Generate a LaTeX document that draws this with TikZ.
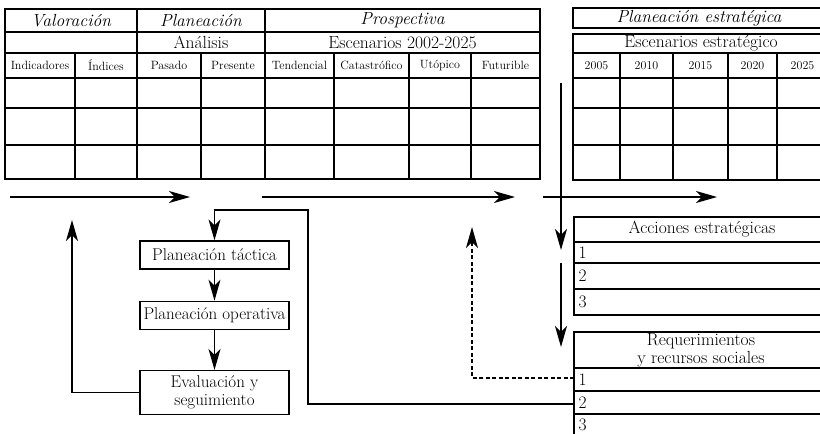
\documentclass[tikz,border=0pt]{standalone}
\usepackage{tikz}
\usetikzlibrary{arrows.meta}
\usetikzlibrary{positioning}

\begin{document}
\begin{tikzpicture}[x=1pt,y=-1pt,line width=1.3pt,>={Stealth[length=21pt,width=12pt,inset=6pt]},
                    every node/.append style={font=\fontsize{17.5}{18}\selectfont,inner sep=1pt},
                    head/.style={font=\fontsize{17.5}{18}\selectfont\itshape},
                    colhead/.style={font=\fontsize{12}{13}\selectfont},
                    flowbox/.style={draw,font=\fontsize{17}{18}\selectfont,minimum width=149pt,minimum height=28pt,align=center},
                    rownum/.style={anchor=west,inner sep=0pt}]

\useasboundingbox (0,0) rectangle (820,434);
\clip (0,0) rectangle (820,434);

% tabla izquierda
\draw (5,9) rectangle (540,179);
\foreach \y in {32,53,78,108,145} \draw (5,\y) -- (540,\y);
\foreach \x in {137,265} \draw (\x,9) -- (\x,179);
\foreach \x in {75,201,334,409,471} \draw (\x,53) -- (\x,179);

\node[head] (valoracion) at (71,20.5) {Valoración};
\node[head] (planeacion) at (201,20.5) {Planeación};
\node[head] (prospectiva) at (402.5,20.5) {Prospectiva};
\node (analisis) at (201,42.5) {Análisis};
\node (escenarios) at (402.5,42.5) {Escenarios 2002-2025};
\node[colhead] (indicadores) at (40,65.5) {Indicadores};
\node[colhead] (indices) at (106,65.5) {Índices};
\node[colhead] (pasado) at (169,65.5) {Pasado};
\node[colhead] (presente) at (233,65.5) {Presente};
\node[colhead] (tendencial) at (299.5,65.5) {Tendencial};
\node[colhead] (catastrofico) at (371.5,65.5) {Catastrófico};
\node[colhead] (utopico) at (440,65.5) {Utópico};
\node[colhead] (futurible) at (505.5,65.5) {Futurible};

% tabla derecha
\draw (573,8) rectangle (828,28);
\draw (573,34) rectangle (828,180);
\foreach \y in {53,78,108,145} \draw (573,\y) -- (828,\y);
\foreach \x in {620,673,728,777} \draw (\x,53) -- (\x,180);

\node[head] (estrategica) at (699,18) {Planeación estratégica};
\node (escestrat) at (701,43.5) {Escenarios estratégico};
\foreach \yr/\x in {2005/596.5,2010/646.5,2015/700.5,2020/752.5,2025/802.5}
  \node[colhead] (y\yr) at (\x,65.5) {\yr};

% acciones
\draw (574,217) rectangle (828,315);
\foreach \y in {242,263,289} \draw (574,\y) -- (828,\y);
\node (acciones) at (702,229.5) {Acciones estratégicas};
\node[rownum] (acc1) at (578,252.5) {1};
\node[rownum] (acc2) at (578,276) {2};
\node[rownum] (acc3) at (578,302) {3};

% requerimientos
\draw (574,440) -- (574,332) -- (828,332);
\foreach \y in {368,391,414} \draw (574,\y) -- (828,\y);
\node[align=center] (requerimientos) at (701,350) {Requerimientos\\y recursos sociales};
\node[rownum] (req1) at (578,379.5) {1};
\node[rownum] (req2) at (578,402.5) {2};
\node[rownum] (req3) at (578,424.5) {3};
\coordinate (req1in) at (574,378);
\coordinate (req2in) at (574,404);

% flujo
\node[flowbox] (tactica) at (214.5,255) {Planeación táctica};
\node[flowbox,below=31pt of tactica] (operativa) {Planeación operativa};
\node[flowbox,minimum height=44pt,below=40pt of operativa] (evaluacion) {Evaluación y\\seguimiento};

\draw[->] (tactica) -- (operativa);
\draw[->] (operativa) -- (evaluacion);

% flechas
\coordinate (a1s) at (10,197);   \coordinate (a1e) at (190,197);
\coordinate (a2s) at (262,197);  \coordinate (a2e) at (515,197);
\coordinate (a3s) at (543,197);  \coordinate (a3e) at (717,197);
\coordinate (v1s) at (561,83);   \coordinate (v1e) at (561,250);
\coordinate (v2s) at (561,263);  \coordinate (v2e) at (561,347);
\coordinate (up1) at (72,220);
\coordinate (up2) at (472,227);

\draw[->] (a1s) -- (a1e);
\draw[->] (a2s) -- (a2e);
\draw[->] (a3s) -- (a3e);
\draw[->] (v1s) -- (v1e);
\draw[->] (v2s) -- (v2e);

\draw[->] (evaluacion.west) -| (up1);
\draw[->] (req2in) -- (308,404) -- (308,210) -- (tactica.north |- 0,210) -- (tactica.north);
\draw[->,dash pattern=on 4pt off 2.5pt] (req1in) -| (up2);

\end{tikzpicture}
\end{document}
